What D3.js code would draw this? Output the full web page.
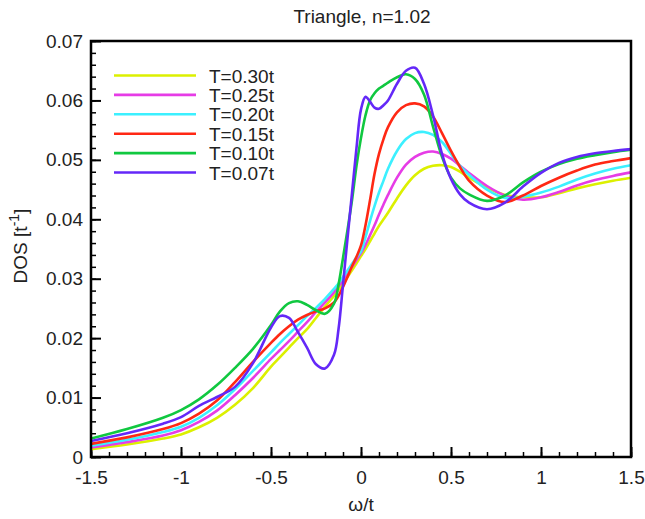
<!DOCTYPE html>
<html><head><meta charset="utf-8">
<script src="https://cdn.jsdelivr.net/npm/d3@7"></script>
<style>body{margin:0;background:#fff}svg{display:block}text{font-family:"Liberation Sans",Arial,sans-serif;fill:#222}</style>
</head><body><div id="c"></div>
<script>
const omega = [-1.5,-1.3,-1.1,-1.0,-0.9,-0.8,-0.7,-0.6,-0.5,-0.45,-0.4,-0.35,-0.3,-0.25,-0.2,-0.15,-0.125,-0.1,-0.075,-0.05,-0.025,0,0.025,0.05,0.075,0.1,0.125,0.15,0.2,0.25,0.3,0.35,0.4,0.45,0.5,0.55,0.6,0.7,0.8,0.9,1.0,1.1,1.2,1.3,1.4,1.5];
const dosT030 = [.0013,.0021,.0031,.0038,.0050,.0066,.0088,.0116,.0152,.0168,.0184,.0200,.0215,.0234,.0253,.0271,.0281,.0292,.0303,.0314,.0326,.0338,.0350,.0363,.0376,.0389,.0400,.0411,.0435,.0457,.0474,.0485,.0490,.0491,.0488,.0480,.0470,.0453,.0441,.0437,.0437,.0444,.0452,.0459,.0465,.0470];
const dosT025 = [.0016,.0025,.0036,.0045,.0059,.0078,.0104,.0133,.0165,.0180,.0195,.0211,.0227,.0244,.0260,.0277,.0287,.0298,.0309,.0320,.0332,.0343,.0357,.0373,.0390,.0408,.0425,.0441,.0470,.0492,.0505,.0512,.0514,.0510,.0502,.0490,.0478,.0456,.0440,.0433,.0437,.0446,.0457,.0466,.0473,.0479];
const dosT020 = [.0019,.0029,.0042,.0051,.0066,.0087,.0114,.0145,.0176,.0192,.0207,.0222,.0237,.0251,.0266,.0283,.0292,.0303,.0314,.0325,.0336,.0346,.0370,.0397,.0422,.0445,.0465,.0485,.0515,.0535,.0545,.0547,.0542,.0530,.0510,.0490,.0475,.0450,.0436,.0438,.0445,.0455,.0467,.0477,.0485,.0491];
const dosT015 = [.0022,.0033,.0047,.0057,.0073,.0095,.0126,.0160,.0192,.0207,.0220,.0231,.0239,.0245,.0250,.0260,.0271,.0286,.0303,.0321,.0337,.0356,.0390,.0432,.0476,.0510,.0535,.0555,.0580,.0592,.0595,.0590,.0573,.0545,.0515,.0488,.0465,.0440,.0429,.0440,.0456,.0470,.0482,.0492,.0498,.0503];
const dosT010 = [.0031,.0047,.0066,.0079,.0097,.0121,.0150,.0182,.0222,.0245,.0259,.0262,.0256,.0247,.0241,.0258,.0290,.0335,.0382,.0432,.0490,.0537,.0575,.0600,.0612,.0620,.0625,.0630,.0639,.0644,.0636,.0610,.0556,.0505,.0470,.0452,.0442,.0431,.0440,.0462,.0480,.0493,.0502,.0508,.0513,.0517];
const dosT007 = [.0027,.0040,.0056,.0067,.0086,.0101,.0118,.0158,.0218,.0237,.0234,.0210,.0184,.0156,.0149,.0172,.0215,.0290,.0368,.0444,.0520,.0585,.0606,.0598,.0588,.0586,.0592,.0600,.0628,.0650,.0655,.0628,.0575,.0510,.0468,.0442,.0428,.0417,.0428,.0455,.0478,.0495,.0505,.0511,.0515,.0518];
const seriesLabels = ["T=0.30t","T=0.25t","T=0.20t","T=0.15t","T=0.10t","T=0.07t"];
const seriesColors = ["#dcf000","#e63ce6","#3cf0ff","#ff2814","#10c840","#6428f8"];
const seriesValues = [dosT030,dosT025,dosT020,dosT015,dosT010,dosT007];
const xTicks = [-1.5,-1,-0.5,0,0.5,1,1.5];
const xTickLabels = ["-1.5","-1","-0.5","0","0.5","1","1.5"];
const yTicks = [0,0.01,0.02,0.03,0.04,0.05,0.06,0.07];
const yTickLabels = ["0","0.01","0.02","0.03","0.04","0.05","0.06","0.07"];

const W=645,H=519, L=91,R=631,T=41,B=457;
const FS=19;
const svg=d3.select("#c").append("svg").attr("width",W).attr("height",H);
const x=d3.scaleLinear().domain([-1.5,1.5]).range([L,R]);
const y=d3.scaleLinear().domain([0,0.07]).range([B,T]);

const xMinor=d3.range(-15,16).map(d=>d/10);
const yMinor=d3.range(0,36).map(d=>d*0.002);
svg.append("g").attr("transform",`translate(0,${B})`)
  .call(d3.axisBottom(x).tickValues(xMinor).tickSize(-5).tickFormat(""))
  .call(g=>{g.select(".domain").remove();g.selectAll("line").attr("stroke","#000").attr("stroke-width",1.5);});
svg.append("g").attr("transform",`translate(${L},0)`)
  .call(d3.axisLeft(y).tickValues(yMinor).tickSize(-5).tickFormat(""))
  .call(g=>{g.select(".domain").remove();g.selectAll("line").attr("stroke","#000").attr("stroke-width",1.5);});
svg.append("g").attr("transform",`translate(0,${B})`)
  .call(d3.axisBottom(x).tickValues(xTicks).tickSize(-10).tickPadding(14).tickFormat((d,i)=>xTickLabels[i]))
  .call(g=>{g.select(".domain").remove();g.selectAll("line").attr("stroke","#000").attr("stroke-width",2);
    g.selectAll("text").attr("font-size",FS).attr("fill","#222").attr("font-family","Liberation Sans, Arial, sans-serif");});
svg.append("g").attr("transform",`translate(${L},0)`)
  .call(d3.axisLeft(y).tickValues(yTicks).tickSize(-10).tickPadding(8).tickFormat((d,i)=>yTickLabels[i]))
  .call(g=>{g.select(".domain").remove();g.selectAll("line").attr("stroke","#000").attr("stroke-width",2);
    g.selectAll("text").attr("font-size",FS).attr("fill","#222").attr("font-family","Liberation Sans, Arial, sans-serif");});

const line=d3.line().x((d,i)=>x(omega[i])).y(d=>y(d)).curve(d3.curveCatmullRom.alpha(0.5));
svg.append("clipPath").attr("id","cp").append("rect").attr("x",L).attr("y",T).attr("width",R-L).attr("height",B-T);
svg.append("g").attr("clip-path","url(#cp)").selectAll("path").data(seriesValues).join("path")
  .attr("d",d=>line(d)).attr("fill","none").attr("stroke",(d,i)=>seriesColors[i]).attr("stroke-width",2.6).attr("stroke-linejoin","round");

svg.append("rect").attr("x",L).attr("y",T).attr("width",R-L).attr("height",B-T).attr("fill","none").attr("stroke","#000").attr("stroke-width",2.5);

const lg=svg.append("g");
seriesLabels.forEach((s,i)=>{
  const yy=75.5+i*19.4;
  lg.append("line").attr("x1",114).attr("x2",196).attr("y1",yy).attr("y2",yy).attr("stroke",seriesColors[i]).attr("stroke-width",2.6);
  lg.append("text").attr("x",209).attr("y",yy+7).attr("font-size",FS).text(s);
});

svg.append("text").attr("x",362).attr("y",23).attr("text-anchor","middle").attr("font-size",FS).text("Triangle, n=1.02");
svg.append("text").attr("x",361).attr("y",511).attr("text-anchor","middle").attr("font-size",FS).text("ω/t");
const yl=svg.append("text").attr("transform","translate(27,246) rotate(-90)").attr("text-anchor","middle").attr("font-size",FS);
yl.append("tspan").text("DOS [t");
yl.append("tspan").attr("baseline-shift","super").attr("font-size",14).text("-1");
yl.append("tspan").text("]");
</script></body></html>
